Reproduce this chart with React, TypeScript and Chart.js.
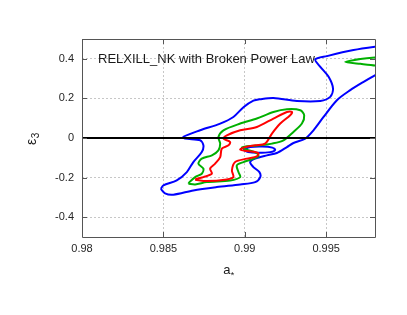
import React, { useEffect, useRef } from "react";
import { Chart, registerables } from "chart.js";

Chart.register(...registerables);

const chartTitle = "RELXILL_NK with Broken Power Law";
const xAxisTitleMain = "a";
const xAxisTitleSub = "*";
const yAxisTitleMain = "\u03B5";
const yAxisTitleSub = "3";
const xTicks = [0.98, 0.985, 0.99, 0.995];
const xTickLabels = ["0.98", "0.985", "0.99", "0.995"];
const yTicks = [-0.4, -0.2, 0, 0.2, 0.4];
const yTickLabels = ["-0.4", "-0.2", "0", "0.2", "0.4"];
const xRange = [0.98, 0.998];
const yRange = [-0.5, 0.5];

const zeroLine = [[0.98, 0], [0.998, 0]];

const blueOuter = [
  [0.98484, -0.2572], [0.9851, -0.28], [0.98561, -0.2866], [0.98684, -0.2648],
  [0.98828, -0.248], [0.98972, -0.2344], [0.99064, -0.2228], [0.99095, -0.1975],
  [0.9909, -0.1721], [0.99053, -0.1468], [0.99033, -0.1215], [0.99064, -0.1043],
  [0.99136, -0.0876], [0.99197, -0.0759], [0.99259, -0.0456], [0.99299, -0.0253],
  [0.99371, -0.003], [0.99422, 0.039], [0.99484, 0.1063], [0.99566, 0.1909],
  [0.99648, 0.2415], [0.9973, 0.2835], [0.99802, 0.3175], [0.999, 0.36],
  [0.999, 0.47], [0.998, 0.4607], [0.99668, 0.444], [0.99505, 0.4136],
  [0.99433, 0.397], [0.99464, 0.3595], [0.99515, 0.3088], [0.99542, 0.2501],
  [0.99525, 0.2076], [0.99464, 0.1873], [0.9932, 0.1873], [0.99176, 0.2025],
  [0.99095, 0.196], [0.99053, 0.1883], [0.98992, 0.1554], [0.9893, 0.1063],
  [0.98849, 0.0729], [0.98726, 0.039], [0.98623, 0.006], [0.98633, -0.003],
  [0.98726, -0.0116], [0.98746, -0.037], [0.98736, -0.0709], [0.98684, -0.1215],
  [0.98644, -0.1721], [0.98582, -0.2142], [0.985, -0.2395], [0.98484, -0.2572],
];

const blueIsland = [
  [0.9899, -0.0597], [0.99033, -0.0461], [0.99107, -0.0435], [0.99169, -0.0486],
  [0.99187, -0.0597], [0.99156, -0.0714], [0.99082, -0.0749], [0.99021, -0.0714],
  [0.9899, -0.0597],
];

const greenMain = [
  [0.98654, -0.2309], [0.98695, -0.2344], [0.98767, -0.2228], [0.9891, -0.2142],
  [0.98972, -0.1975], [0.98961, -0.1721], [0.98951, -0.1382], [0.98992, -0.1215],
  [0.99053, -0.1043], [0.99084, -0.0927], [0.99074, -0.0759], [0.99013, -0.0587],
  [0.98982, -0.0486], [0.99013, -0.042], [0.99095, -0.037], [0.99167, -0.0284],
  [0.99238, -0.0116], [0.99299, 0.0304], [0.99351, 0.0729], [0.99365, 0.1149],
  [0.99341, 0.1402], [0.99259, 0.1453], [0.99176, 0.1316], [0.99074, 0.0982],
  [0.98972, 0.0729], [0.98869, 0.039], [0.98838, 0.005], [0.98849, -0.0284],
  [0.98838, -0.0623], [0.98798, -0.0876], [0.98736, -0.1043], [0.98715, -0.1296],
  [0.98746, -0.1549], [0.98736, -0.1802], [0.98695, -0.1975], [0.9866, -0.2228],
  [0.98654, -0.2309],
];

const greenTongue = [
  [0.9987, 0.41], [0.998, 0.407], [0.9971, 0.3985], [0.99617, 0.3833],
  [0.9971, 0.3747], [0.998, 0.3666], [0.9987, 0.363],
];

const redMain = [
  [0.98695, -0.2106], [0.98767, -0.2177], [0.9889, -0.2091], [0.9893, -0.1975],
  [0.98921, -0.1635], [0.98941, -0.1215], [0.99013, -0.1043], [0.99074, -0.0927],
  [0.99084, -0.0759], [0.99013, -0.0658], [0.98972, -0.0587], [0.98992, -0.0486],
  [0.99064, -0.037], [0.99125, -0.0284], [0.99167, 0.0223], [0.99218, 0.0729],
  [0.99279, 0.1149], [0.9929, 0.1316], [0.99259, 0.1316], [0.99176, 0.0982],
  [0.99074, 0.0557], [0.98972, 0.039], [0.9889, 0.0137], [0.98869, -0.003],
  [0.9891, -0.0203], [0.989, -0.037], [0.98859, -0.0537], [0.98849, -0.0962],
  [0.98818, -0.1296], [0.98787, -0.1549], [0.98798, -0.1802], [0.98746, -0.1975],
  [0.98705, -0.2056], [0.98695, -0.2106],
];

const FONT = "'Liberation Sans', Arial, Helvetica, sans-serif";
const BLUE = "#0000ff";
const GREEN = "#00b000";
const RED = "#ff0000";
const FRAME = "#555555";
const TEXT = "#1a1a1a";

const toXY = (pts: number[][]) => pts.map(([x, y]) => ({ x, y }));

function contour(pts: number[][], color: string, tension = 0.3) {
  return {
    data: toXY(pts),
    borderColor: color,
    backgroundColor: color,
    borderWidth: 2,
    showLine: true,
    pointRadius: 0,
    pointHoverRadius: 0,
    tension,
    fill: false,
    clip: 0,
  };
}

const framePlugin = {
  id: "frameAndTitle",
  afterDatasetsDraw(chart: any) {
    const { ctx, chartArea } = chart;
    const { left, right, top, bottom } = chartArea;
    const xs = chart.scales.x;
    const ys = chart.scales.y;
    ctx.save();
    ctx.strokeStyle = FRAME;
    ctx.lineWidth = 1;
    ctx.setLineDash([]);
    ctx.beginPath();
    ctx.rect(Math.round(left) + 0.5, Math.round(top) + 0.5, Math.round(right - left), Math.round(bottom - top));
    ctx.stroke();
    const tl = 5;
    ctx.beginPath();
    for (const v of xTicks) {
      const px = Math.round(xs.getPixelForValue(v)) + 0.5;
      ctx.moveTo(px, bottom);
      ctx.lineTo(px, bottom - tl);
      ctx.moveTo(px, top);
      ctx.lineTo(px, top + tl);
    }
    for (const v of yTicks) {
      const py = Math.round(ys.getPixelForValue(v)) + 0.5;
      ctx.moveTo(left, py);
      ctx.lineTo(left + tl, py);
      ctx.moveTo(right, py);
      ctx.lineTo(right - tl, py);
    }
    ctx.stroke();

    // in-plot title
    ctx.fillStyle = TEXT;
    ctx.font = `13px ${FONT}`;
    ctx.textAlign = "left";
    ctx.textBaseline = "middle";
    ctx.fillText(chartTitle, left + 16, top + 20);

    // x axis title with subscript
    const cx = (left + right) / 2;
    ctx.textBaseline = "alphabetic";
    ctx.font = `13px ${FONT}`;
    const wMain = ctx.measureText(xAxisTitleMain).width;
    ctx.font = `9px ${FONT}`;
    const wSub = ctx.measureText(xAxisTitleSub).width;
    const startX = cx - (wMain + wSub) / 2;
    ctx.font = `13px ${FONT}`;
    ctx.fillText(xAxisTitleMain, startX, bottom + 37);
    ctx.font = `9px ${FONT}`;
    ctx.fillText(xAxisTitleSub, startX + wMain + 0.5, bottom + 41);

    // y axis title, rotated, with subscript
    const cy = (top + bottom) / 2;
    ctx.save();
    ctx.translate(left - 46, cy + 1);
    ctx.rotate(-Math.PI / 2);
    ctx.font = `14px ${FONT}`;
    const eW = ctx.measureText(yAxisTitleMain).width;
    ctx.font = `10px ${FONT}`;
    const sW = ctx.measureText(yAxisTitleSub).width;
    const sx = -(eW + sW) / 2;
    ctx.font = `14px ${FONT}`;
    ctx.fillText(yAxisTitleMain, sx, 0);
    ctx.font = `10px ${FONT}`;
    ctx.fillText(yAxisTitleSub, sx + eW + 0.5, 3);
    ctx.restore();

    ctx.restore();
  },
};

export default function App() {
  const ref = useRef<HTMLCanvasElement | null>(null);
  useEffect(() => {
    if (!ref.current) return;
    const chart = new Chart(ref.current, {
      type: "scatter",
      data: {
        datasets: [
          {
            data: toXY(zeroLine),
            borderColor: "#000000",
            borderWidth: 2,
            showLine: true,
            pointRadius: 0,
            pointHoverRadius: 0,
            tension: 0,
            clip: 0,
          },
          contour(redMain, RED),
          contour(greenMain, GREEN),
          contour(greenTongue, GREEN, 0.2),
          contour(blueIsland, BLUE),
          contour(blueOuter, BLUE),
        ] as any,
      },
      options: {
        responsive: false,
        animation: false,
        events: [],
        layout: { padding: { left: 0, right: 32, top: 39, bottom: 0 } },
        plugins: {
          legend: { display: false },
          tooltip: { enabled: false },
          title: { display: false },
        },
        scales: {
          x: {
            type: "linear",
            min: xRange[0],
            max: xRange[1],
            afterBuildTicks: (scale: any) => {
              scale.ticks = xTicks.map((v) => ({ value: v }));
            },
            afterFit: (scale: any) => {
              scale.height = 78;
            },
            ticks: {
              autoSkip: false,
              maxRotation: 0,
              padding: 5,
              color: "#262626",
              font: { family: FONT, size: 11 },
              callback: (_v: any, i: number) => xTickLabels[i],
            },
            grid: {
              color: "rgba(0,0,0,0.22)",
              lineWidth: 1,
              drawTicks: false,
            },
            border: { display: false, dash: [2, 2] },
            title: { display: false },
          },
          y: {
            type: "linear",
            min: yRange[0],
            max: yRange[1],
            afterBuildTicks: (scale: any) => {
              scale.ticks = yTicks.map((v) => ({ value: v }));
            },
            afterFit: (scale: any) => {
              scale.width = 82;
            },
            ticks: {
              autoSkip: false,
              padding: 8,
              color: "#262626",
              font: { family: FONT, size: 11 },
              callback: (_v: any, i: number) => yTickLabels[i],
            },
            grid: {
              color: "rgba(0,0,0,0.22)",
              lineWidth: 1,
              drawTicks: false,
            },
            border: { display: false, dash: [2, 2] },
            title: { display: false },
          },
        },
      } as any,
      plugins: [framePlugin],
    });
    return () => chart.destroy();
  }, []);
  return (
    <div style={{ position: "absolute", left: 0, top: 0, width: 407, height: 315, background: "#fff" }}>
      <canvas ref={ref} width={407} height={315} />
    </div>
  );
}
